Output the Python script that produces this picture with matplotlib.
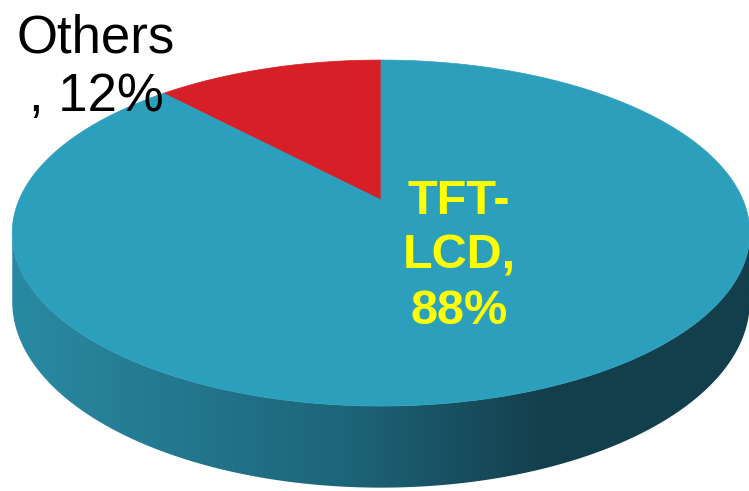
import numpy as np
import matplotlib

matplotlib.use("Agg")
import matplotlib.pyplot as plt
from matplotlib.colors import LinearSegmentedColormap
from matplotlib.patches import Polygon

# data
labels = ["Others", "TFT-LCD"]
shares = [12, 88]
colors = ["#d71f27", "#2c9fbc"]

W, H = 749, 491

# perspective projection of a tilted disc onto the picture (pixel coords)
CX, CY = 381, 200        # projected centre of the disc
A, B, C = 362.0, 166.7, 0.191
DEPTH = 66.0


def project(theta_deg, drop=0.0):
    t = np.radians(theta_deg)
    den = 1 + C * np.sin(t)
    x = CX + A * np.cos(t) / den
    y = CY - B * np.sin(t) / den + drop / den
    return x, y


fig = plt.figure(figsize=(W / 100, H / 100), dpi=100)
ax = fig.add_axes([0, 0, 1, 1])
ax.set_xlim(0, W)
ax.set_ylim(H, 0)
ax.axis("off")

# side wall (front half, shaded left -> right)
t_left = 180 + np.degrees(np.arcsin(C))
t_right = 360 - np.degrees(np.arcsin(C))
ts = np.linspace(t_left, t_right, 200)
xt, yt = project(ts)
xb, yb = project(ts[::-1], DEPTH)
side = Polygon(np.column_stack([np.r_[xt, xb], np.r_[yt, yb]]),
               closed=True, facecolor="none", edgecolor="none")
ax.add_patch(side)
side_cmap = LinearSegmentedColormap.from_list(
    "side", [(0.0, "#2a8aa3"), (0.45, "#1d6579"), (0.72, "#143f4d"),
             (1.0, "#133e4b")])
grad = np.linspace(0, 1, 256)[None, :]
im = ax.imshow(grad, cmap=side_cmap, extent=[xt.min(), xt.max(), H, 0],
               aspect="auto", zorder=1)
im.set_clip_path(side)

# top face: wedges start at 12 o'clock, counter-clockwise
start = 90.0
for share, col in zip(shares, colors):
    sweep = 360.0 * share / sum(shares)
    arc = np.linspace(start, start + sweep, 300)
    x, y = project(arc)
    pts = np.column_stack([np.r_[CX, x], np.r_[CY, y]])
    ax.add_patch(Polygon(pts, closed=True, facecolor=col, edgecolor=col,
                         linewidth=0.5, zorder=2))
    start += sweep

ax.text(96, 13, f"{labels[0]}\n, {shares[0]}%", ha="center", va="top",
        multialignment="center", fontsize=38, linespacing=1.24,
        family="Liberation Sans", color="black", zorder=3)
ax.text(459, 179, "TFT-\nLCD,\n" + f"{shares[1]}%", ha="center", va="top",
        multialignment="center", fontsize=35, fontweight="bold",
        linespacing=1.28, family="Liberation Sans", color="#ffff00", zorder=3)

fig.savefig("out.png", dpi=100)
